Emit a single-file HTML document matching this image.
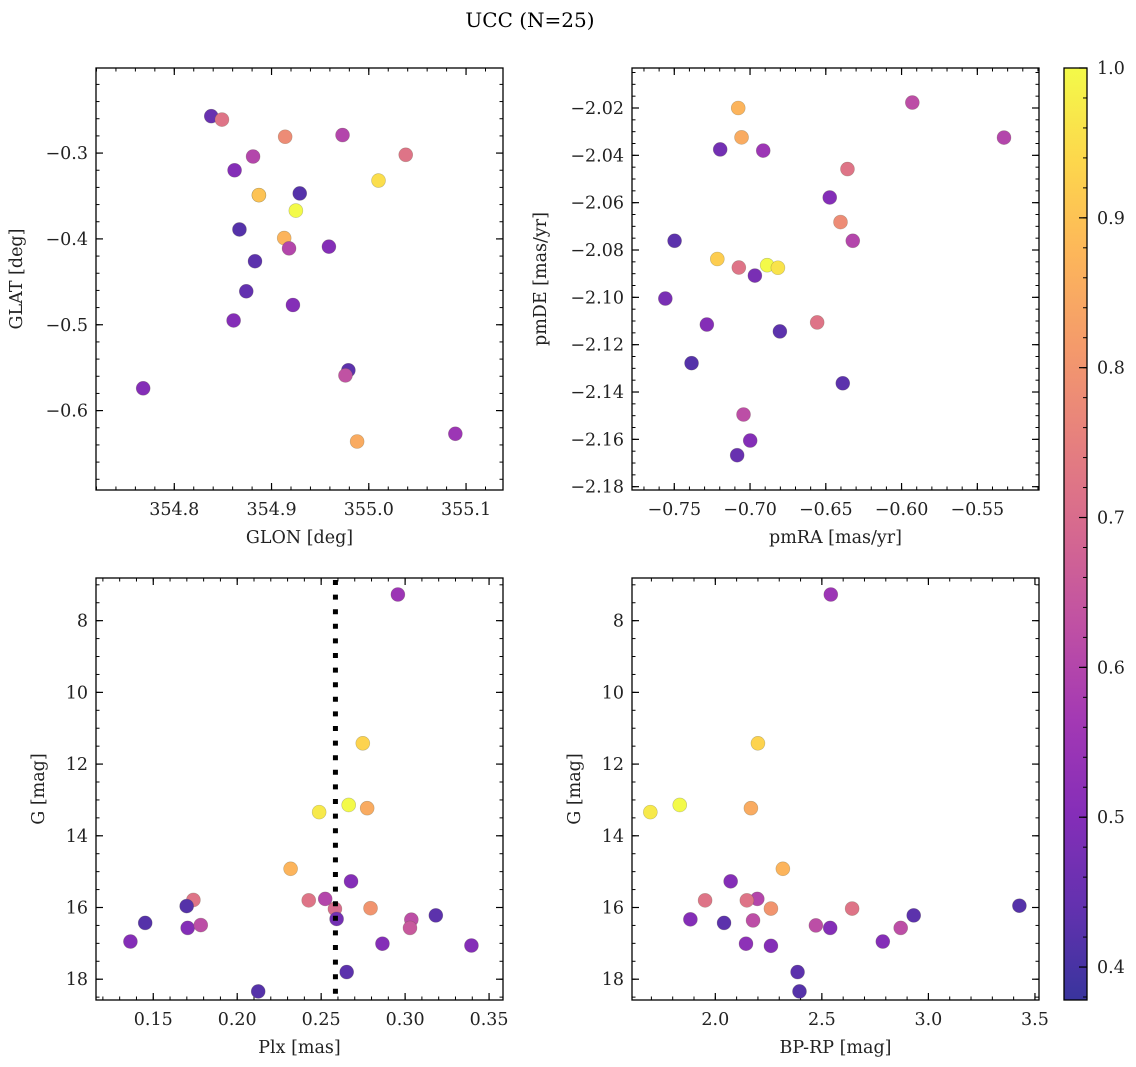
<!DOCTYPE html>
<html><head><meta charset="utf-8"><style>
html,body{margin:0;padding:0;background:#fff;}
svg{display:block;font-family:"DejaVu Serif","Liberation Serif",serif;}
</style></head><body>
<svg id="fig" width="1136" height="1067" viewBox="0 0 1136 1067">
<text x="530" y="27" font-size="20" text-anchor="middle">UCC (N=25)</text>
<defs>
<linearGradient id="cbgrad" x1="0" y1="1" x2="0" y2="0"></linearGradient>
</defs>
</svg>
<script>
// ---- data ----
const glon = [354.838,354.849,354.914,354.973,355.038,354.881,354.862,354.887,354.929,355.010,354.925,354.913,354.867,354.918,354.959,354.883,354.874,354.922,354.861,354.979,354.976,354.768,354.988,355.089,354.887];
const glat = [-0.257,-0.261,-0.281,-0.279,-0.302,-0.304,-0.320,-0.349,-0.347,-0.332,-0.367,-0.399,-0.389,-0.411,-0.409,-0.426,-0.461,-0.477,-0.495,-0.553,-0.559,-0.574,-0.636,-0.627,-0.349];
const probA = [0.45,0.72,0.78,0.60,0.72,0.60,0.50,0.92,0.42,0.95,1.00,0.87,0.42,0.60,0.50,0.43,0.44,0.50,0.50,0.43,0.63,0.50,0.85,0.55,0.90];

const pmra = [-0.7078,-0.7056,-0.7197,-0.6913,-0.5929,-0.5324,-0.6357,-0.6474,-0.6403,-0.6322,-0.7498,-0.7216,-0.7074,-0.6887,-0.6816,-0.6968,-0.7559,-0.7285,-0.6803,-0.6557,-0.7386,-0.6388,-0.7043,-0.6999,-0.7085];
const pmde = [-2.0200,-2.0324,-2.0375,-2.0380,-2.0177,-2.0325,-2.0458,-2.0578,-2.0682,-2.0761,-2.0761,-2.0838,-2.0874,-2.0864,-2.0875,-2.0908,-2.1005,-2.1115,-2.1144,-2.1106,-2.1278,-2.1363,-2.1495,-2.1605,-2.1667];
const probB = [0.87,0.85,0.47,0.55,0.62,0.60,0.72,0.50,0.78,0.60,0.43,0.92,0.72,1.00,0.96,0.48,0.48,0.50,0.43,0.72,0.42,0.43,0.62,0.50,0.45];

const plx = [0.2957,0.2748,0.2488,0.2664,0.2774,0.2318,0.2678,0.2426,0.2524,0.2582,0.2592,0.2794,0.1739,0.1699,0.1452,0.1705,0.1783,0.1364,0.3037,0.3029,0.3183,0.2865,0.3395,0.2652,0.2125];
const gmagC = [7.27,11.42,13.34,13.14,13.23,14.92,15.27,15.80,15.76,16.04,16.32,16.02,15.79,15.96,16.43,16.57,16.49,16.95,16.34,16.57,16.22,17.01,17.06,17.80,18.34];
const probC = [0.55,0.93,0.97,1.00,0.85,0.87,0.50,0.72,0.60,0.70,0.47,0.80,0.72,0.42,0.42,0.50,0.62,0.50,0.62,0.65,0.43,0.50,0.50,0.43,0.42];
const plxLine = [0.2585];

const bprp = [2.542,2.200,1.695,1.833,2.167,2.317,2.072,1.952,2.197,2.148,2.261,2.642,3.427,1.883,2.041,2.177,2.931,2.472,2.539,2.870,2.144,2.261,2.786,2.386,2.395];
const gmagD = [7.27,11.42,13.34,13.14,13.23,14.92,15.27,15.80,15.76,15.80,16.03,16.03,15.95,16.33,16.43,16.36,16.22,16.50,16.57,16.57,17.01,17.07,16.95,17.80,18.34];
const probD = [0.55,0.93,0.97,1.00,0.85,0.87,0.50,0.72,0.60,0.72,0.80,0.72,0.42,0.50,0.43,0.62,0.43,0.62,0.50,0.62,0.52,0.50,0.50,0.43,0.42];

const ticksA_x = ["354.8","354.9","355.0","355.1"];
const ticksA_y = ["-0.3","-0.4","-0.5","-0.6"];
const ticksB_x = ["-0.75","-0.70","-0.65","-0.60","-0.55"];
const ticksB_y = ["-2.02","-2.04","-2.06","-2.08","-2.10","-2.12","-2.14","-2.16","-2.18"];
const ticksC_x = ["0.15","0.20","0.25","0.30","0.35"];
const ticksG_y = ["8","10","12","14","16","18"];
const ticksD_x = ["2.0","2.5","3.0","3.5"];
const ticksCbar = ["0.4","0.5","0.6","0.7","0.8","0.9","1.0"];
const cmin = 0.378, cmax = 1.0;

// ---- helpers ----
const NS = "http://www.w3.org/2000/svg";
const svg = document.getElementById("fig");
const FS = 17.5;
const plasma = ["#0d0887","#41049d","#6a00a8","#8f0da4","#b12a90","#cc4778","#e16462","#f2844b","#fca636","#fcce25","#f0f921"];
function hex(h){return [parseInt(h.slice(1,3),16),parseInt(h.slice(3,5),16),parseInt(h.slice(5,7),16)];}
function cmap(v){
  let t=(v-cmin)/(cmax-cmin); t=Math.max(0,Math.min(1,t));
  const f=t*10, i=Math.min(9,Math.floor(f)), r=f-i;
  const a=hex(plasma[i]), b=hex(plasma[i+1]);
  const c=a.map((x,k)=>x+(b[k]-x)*r).map(x=>Math.round(x*0.82+255*0.18));
  return "rgb("+c.join(",")+")";
}
function mk(tag, attrs, parent){
  const e=document.createElementNS(NS,tag);
  for(const k in attrs) e.setAttribute(k,attrs[k]);
  (parent||svg).appendChild(e); return e;
}
function fmt(s){return s.replace("-","\u2212");}

function panel(name, box, xr, yr, xs, ys, cs, xt, yt, xminor, yminor, xlabel, ylabel, ylabX){
  const [L,T,R,B]=box;
  const sx=v=>L+(v-xr[0])/(xr[1]-xr[0])*(R-L);
  const sy=v=>T+(v-yr[0])/(yr[1]-yr[0])*(B-T);
  const g=mk("g",{});
  
  
  const lo=Math.min(xr[0],xr[1]), hi=Math.max(xr[0],xr[1]);
  for(let v=Math.ceil(lo/xminor-1e-6)*xminor; v<=hi+1e-9; v+=xminor){
    const x=sx(v);
    mk("line",{x1:x,x2:x,y1:B,y2:B-3.5,stroke:"#000","stroke-width":1},g);
    mk("line",{x1:x,x2:x,y1:T,y2:T+3.5,stroke:"#000","stroke-width":1},g);
  }
  const ylo=Math.min(yr[0],yr[1]), yhi=Math.max(yr[0],yr[1]);
  for(let v=Math.ceil(ylo/yminor-1e-6)*yminor; v<=yhi+1e-9; v+=yminor){
    const y=sy(v);
    mk("line",{x1:L,x2:L+3.5,y1:y,y2:y,stroke:"#000","stroke-width":1},g);
    mk("line",{x1:R,x2:R-3.5,y1:y,y2:y,stroke:"#000","stroke-width":1},g);
  }
  xt.forEach(s=>{
    const x=sx(parseFloat(s));
    mk("line",{x1:x,x2:x,y1:B,y2:B-7,stroke:"#000","stroke-width":1.2},g);
    mk("line",{x1:x,x2:x,y1:T,y2:T+7,stroke:"#000","stroke-width":1.2},g);
    const t=mk("text",{x:x,y:B+25,"font-size":FS,"text-anchor":"middle",fill:"#222"},g);
    t.textContent=fmt(s);
    
    
  });
  yt.forEach(s=>{
    const y=sy(parseFloat(s));
    mk("line",{x1:L,x2:L+7,y1:y,y2:y,stroke:"#000","stroke-width":1.2},g);
    mk("line",{x1:R,x2:R-7,y1:y,y2:y,stroke:"#000","stroke-width":1.2},g);
    const t=mk("text",{x:L-8,y:y+6,"font-size":FS,"text-anchor":"end",fill:"#222"},g);
    t.textContent=fmt(s);
    
    
  });
  const xl=mk("text",{x:(L+R)/2,y:B+53,"font-size":FS,"text-anchor":"middle",fill:"#222"},g);
  xl.textContent=xlabel;
  
  
  const yl=mk("text",{x:ylabX,y:(T+B)/2,"font-size":FS,"text-anchor":"middle",fill:"#222",transform:"rotate(-90 "+ylabX+" "+((T+B)/2)+")"},g);
  yl.textContent=ylabel;
  
  
  xs.forEach((v,i)=>{
    const c=mk("circle",{cx:sx(v),cy:sy(ys[i]),r:7,fill:cmap(cs[i]),stroke:"rgba(90,90,60,0.35)","stroke-width":0.6},g);
    
    
  });
  const fr=mk("rect",{x:L,y:T,width:R-L,height:B-T,fill:"none",stroke:"#000","stroke-width":1.3},g);
  
  
  return {sx,sy,g};
}

panel("glon-glat-panel",[96,68,503,490],[354.7195,355.138],[-0.2009,-0.6925],glon,glat,probA,ticksA_x,ticksA_y,0.02,0.02,"GLON [deg]","GLAT [deg]",22);
panel("pm-panel",[632,68,1039,490],[-0.7779,-0.5093],[-2.0031,-2.1814],pmra,pmde,probB,ticksB_x,ticksB_y,0.01,0.005,"pmRA [mas/yr]","pmDE [mas/yr]",546);
const p3=panel("plx-g-panel",[96,578,503,1000],[0.1159,0.3583],[6.81,18.58],plx,gmagC,probC,ticksC_x,ticksG_y,0.01,0.5,"Plx [mas]","G [mag]",44);
panel("cmd-panel",[632,578,1039,1000],[1.609,3.519],[6.81,18.58],bprp,gmagD,probD,ticksD_x,ticksG_y,0.1,0.5,"BP-RP [mag]","G [mag]",580);

plxLine.forEach(v=>{
  const ln=mk("line",{x1:p3.sx(v),x2:p3.sx(v),y1:580,y2:1000,stroke:"#000","stroke-width":5,"stroke-dasharray":"5 9.6"});
  
  
});

const grad=document.getElementById("cbgrad");
for(let k=0;k<=20;k++){
  const v=cmin+(cmax-cmin)*k/20;
  mk("stop",{offset:(k/20),"stop-color":cmap(v)},grad);
}
const CL=1064, CR=1087, CT=68, CB=1000;
const cby=v=>CB-(v-cmin)/(cmax-cmin)*(CB-CT);
const cb=mk("rect",{x:CL,y:CT,width:CR-CL,height:CB-CT,fill:"url(#cbgrad)",stroke:"#000","stroke-width":1.3});


for(let v=0.38; v<=1.0001; v+=0.02){
  mk("line",{x1:CR,x2:CR-4,y1:cby(v),y2:cby(v),stroke:"#000","stroke-width":1});
}
ticksCbar.forEach(s=>{
  const y=cby(parseFloat(s));
  mk("line",{x1:CR,x2:CR-8,y1:y,y2:y,stroke:"#000","stroke-width":1.2});
  const t=mk("text",{x:CR+10,y:y+6,"font-size":FS,fill:"#222"});
  t.textContent=s;
  
  
});
</script>
</body></html>
